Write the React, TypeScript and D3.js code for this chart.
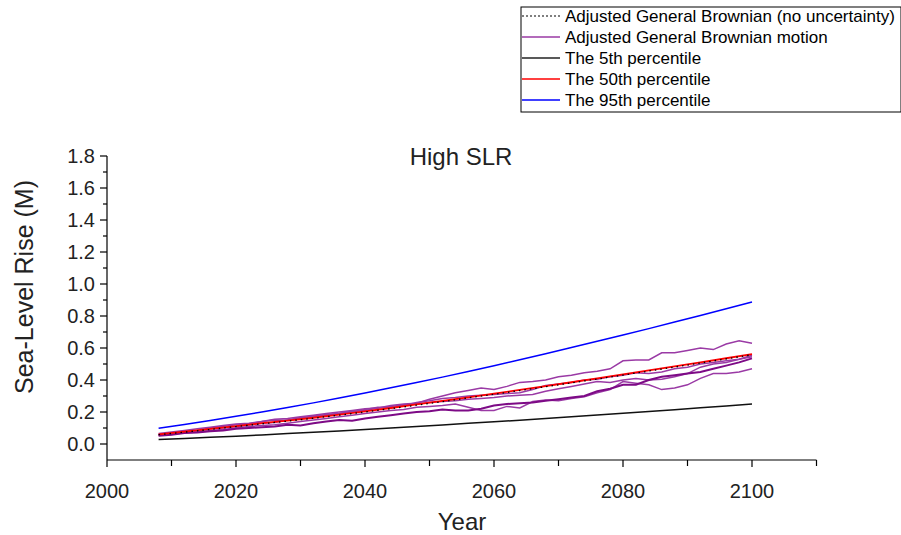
import React from "react";
import * as d3 from "d3";

const pctYears = d3.range(2008, 2101, 4);
const p95 = [0.098, 0.122, 0.147, 0.173, 0.200, 0.228, 0.257, 0.288, 0.319, 0.351, 0.384, 0.418, 0.453, 0.489, 0.526, 0.564, 0.603, 0.642, 0.681, 0.721, 0.762, 0.803, 0.845, 0.888];
const p50 = [0.060, 0.077, 0.094, 0.112, 0.130, 0.146, 0.164, 0.184, 0.204, 0.225, 0.247, 0.269, 0.292, 0.315, 0.338, 0.362, 0.386, 0.410, 0.435, 0.460, 0.485, 0.510, 0.536, 0.562];
const p05 = [0.028, 0.035, 0.042, 0.049, 0.057, 0.065, 0.073, 0.082, 0.091, 0.100, 0.110, 0.119, 0.129, 0.139, 0.149, 0.160, 0.170, 0.181, 0.192, 0.203, 0.214, 0.226, 0.238, 0.250];
const noUncert = [0.058, 0.074, 0.091, 0.109, 0.126, 0.143, 0.161, 0.180, 0.200, 0.221, 0.243, 0.265, 0.288, 0.311, 0.334, 0.358, 0.382, 0.406, 0.431, 0.456, 0.481, 0.506, 0.532, 0.558];

const pathYears = d3.range(2008, 2101, 2);
const pathA = [0.06, 0.065, 0.075, 0.08, 0.095, 0.10, 0.11, 0.118, 0.13, 0.135, 0.15, 0.165, 0.17, 0.18, 0.19, 0.205, 0.21, 0.225, 0.24, 0.25, 0.255, 0.28, 0.30, 0.32, 0.335, 0.35, 0.34, 0.36, 0.385, 0.39, 0.40, 0.42, 0.43, 0.445, 0.455, 0.47, 0.52, 0.525, 0.525, 0.57, 0.57, 0.585, 0.60, 0.59, 0.625, 0.645, 0.63];
const pathB = [0.058, 0.07, 0.08, 0.085, 0.10, 0.11, 0.12, 0.125, 0.14, 0.15, 0.148, 0.16, 0.175, 0.185, 0.19, 0.20, 0.215, 0.23, 0.225, 0.24, 0.26, 0.27, 0.285, 0.29, 0.30, 0.305, 0.31, 0.315, 0.32, 0.34, 0.365, 0.375, 0.385, 0.40, 0.405, 0.42, 0.43, 0.445, 0.44, 0.45, 0.47, 0.48, 0.50, 0.51, 0.52, 0.53, 0.545];
const pathC = [0.055, 0.06, 0.07, 0.075, 0.085, 0.09, 0.10, 0.11, 0.115, 0.12, 0.13, 0.14, 0.15, 0.16, 0.17, 0.18, 0.19, 0.20, 0.21, 0.215, 0.23, 0.235, 0.24, 0.25, 0.23, 0.21, 0.21, 0.235, 0.225, 0.265, 0.275, 0.27, 0.285, 0.295, 0.32, 0.34, 0.39, 0.38, 0.37, 0.34, 0.35, 0.37, 0.41, 0.44, 0.44, 0.45, 0.47];
const pathD = [0.052, 0.058, 0.068, 0.072, 0.08, 0.085, 0.095, 0.10, 0.105, 0.11, 0.12, 0.115, 0.13, 0.14, 0.15, 0.145, 0.16, 0.17, 0.18, 0.19, 0.20, 0.205, 0.215, 0.21, 0.21, 0.22, 0.24, 0.25, 0.255, 0.26, 0.27, 0.28, 0.29, 0.30, 0.33, 0.345, 0.37, 0.37, 0.40, 0.42, 0.43, 0.44, 0.45, 0.47, 0.49, 0.51, 0.535];
const pathE = [0.065, 0.075, 0.085, 0.095, 0.105, 0.115, 0.125, 0.13, 0.14, 0.155, 0.16, 0.17, 0.18, 0.19, 0.20, 0.21, 0.22, 0.225, 0.235, 0.245, 0.25, 0.26, 0.265, 0.27, 0.28, 0.285, 0.29, 0.30, 0.305, 0.31, 0.33, 0.345, 0.36, 0.375, 0.39, 0.385, 0.40, 0.41, 0.40, 0.405, 0.42, 0.44, 0.48, 0.50, 0.51, 0.53, 0.555];

const xMajor = [2000, 2020, 2040, 2060, 2080, 2100];
const xMinor = [2010, 2030, 2050, 2070, 2090, 2110];
const yMajor = [0.0, 0.2, 0.4, 0.6, 0.8, 1.0, 1.2, 1.4, 1.6, 1.8];
const yMinor = [0.1, 0.3, 0.5, 0.7, 0.9, 1.1, 1.3, 1.5, 1.7];

const legendLabels = [
  "Adjusted General Brownian (no uncertainty)",
  "Adjusted General Brownian motion",
  "The 5th percentile",
  "The 50th percentile",
  "The 95th percentile",
];

const FONT = "'Liberation Sans', Arial, sans-serif";

export default function App() {
  const x = d3.scaleLinear().domain([2000, 2110]).range([107, 816.5]);
  const y = d3.scaleLinear().domain([-0.1, 1.8]).range([460, 156]);

  const line = (years: number[], vals: number[]) =>
    d3.line<number>().x((_, i) => x(years[i])).y((v) => y(v))(vals) || "";

  const purple = "#9a3aa5";
  const purpleDark = "#7d0a86";

  const legendRows = [
    { stroke: "#000", dash: "2,2", width: 1.2 },
    { stroke: purple, dash: undefined, width: 1.5 },
    { stroke: "#222", dash: undefined, width: 1.5 },
    { stroke: "#ff0000", dash: undefined, width: 1.5 },
    { stroke: "#0000ff", dash: undefined, width: 1.5 },
  ];

  return (
    <svg
      width={901}
      height={535}
      style={{ position: "absolute", left: 0, top: 0, background: "#fff" }}
      fontFamily={FONT}
    >
      <rect x={0} y={0} width={901} height={535} fill="#fff" />
      {/* Legend */}
      <rect x={521} y={7} width={380} height={105} fill="#fff" stroke="#000" strokeWidth={1} />
      {legendLabels.map((lab, i) => {
        const cy = 16 + i * 21;
        const r = legendRows[i];
        return (
          <g key={lab}>
            <line x1={522} x2={560} y1={cy} y2={cy} stroke={r.stroke} strokeWidth={r.width} strokeDasharray={r.dash} />
            <text x={565} y={cy + 6} fontSize={17} fill="#000">{lab}</text>
          </g>
        );
      })}

      {/* Title */}
      <text x={461} y={165} fontSize={24} textAnchor="middle" fill="#222">High SLR</text>

      {/* Axes */}
      <line x1={107} x2={107} y1={156} y2={460} stroke="#000" strokeWidth={1.2} />
      <line x1={107} x2={816.5} y1={460} y2={460} stroke="#000" strokeWidth={1.2} />
      {yMajor.map((v) => (
        <g key={"ym" + v}>
          <line x1={100} x2={107} y1={y(v)} y2={y(v)} stroke="#000" strokeWidth={1.2} />
          <text x={95} y={y(v) + 7} fontSize={20} textAnchor="end" fill="#222">{v.toFixed(1)}</text>
        </g>
      ))}
      {yMinor.map((v) => (
        <line key={"yn" + v} x1={103} x2={107} y1={y(v)} y2={y(v)} stroke="#000" strokeWidth={1.2} />
      ))}
      {xMajor.map((v) => (
        <g key={"xm" + v}>
          <line x1={x(v)} x2={x(v)} y1={460} y2={467} stroke="#000" strokeWidth={1.2} />
          <text x={x(v)} y={498} fontSize={20} textAnchor="middle" fill="#222">{v}</text>
        </g>
      ))}
      {xMinor.map((v) => (
        <line key={"xn" + v} x1={x(v)} x2={x(v)} y1={460} y2={466} stroke="#000" strokeWidth={1.2} />
      ))}
      <text x={462} y={530} fontSize={24} textAnchor="middle" fill="#222">Year</text>
      <text transform="translate(33,287) rotate(-90)" fontSize={25} textAnchor="middle" fill="#222">Sea-Level Rise (M)</text>

      {/* Series */}
      <path d={line(pctYears, p95)} fill="none" stroke="#0000ff" strokeWidth={1.5} />
      <path d={line(pctYears, p05)} fill="none" stroke="#111" strokeWidth={1.5} />
      <path d={line(pathYears, pathA)} fill="none" stroke={purple} strokeWidth={1.5} />
      <path d={line(pathYears, pathC)} fill="none" stroke={purple} strokeWidth={1.5} />
      <path d={line(pathYears, pathE)} fill="none" stroke={purple} strokeWidth={1.5} />
      <path d={line(pathYears, pathB)} fill="none" stroke={purple} strokeWidth={1.5} />
      <path d={line(pathYears, pathD)} fill="none" stroke={purpleDark} strokeWidth={2} />
      <path d={line(pctYears, p50)} fill="none" stroke="#ff0000" strokeWidth={1.8} />
      <path d={line(pctYears, noUncert)} fill="none" stroke="#000" strokeWidth={1.3} strokeDasharray="1.5,4" />
    </svg>
  );
}
